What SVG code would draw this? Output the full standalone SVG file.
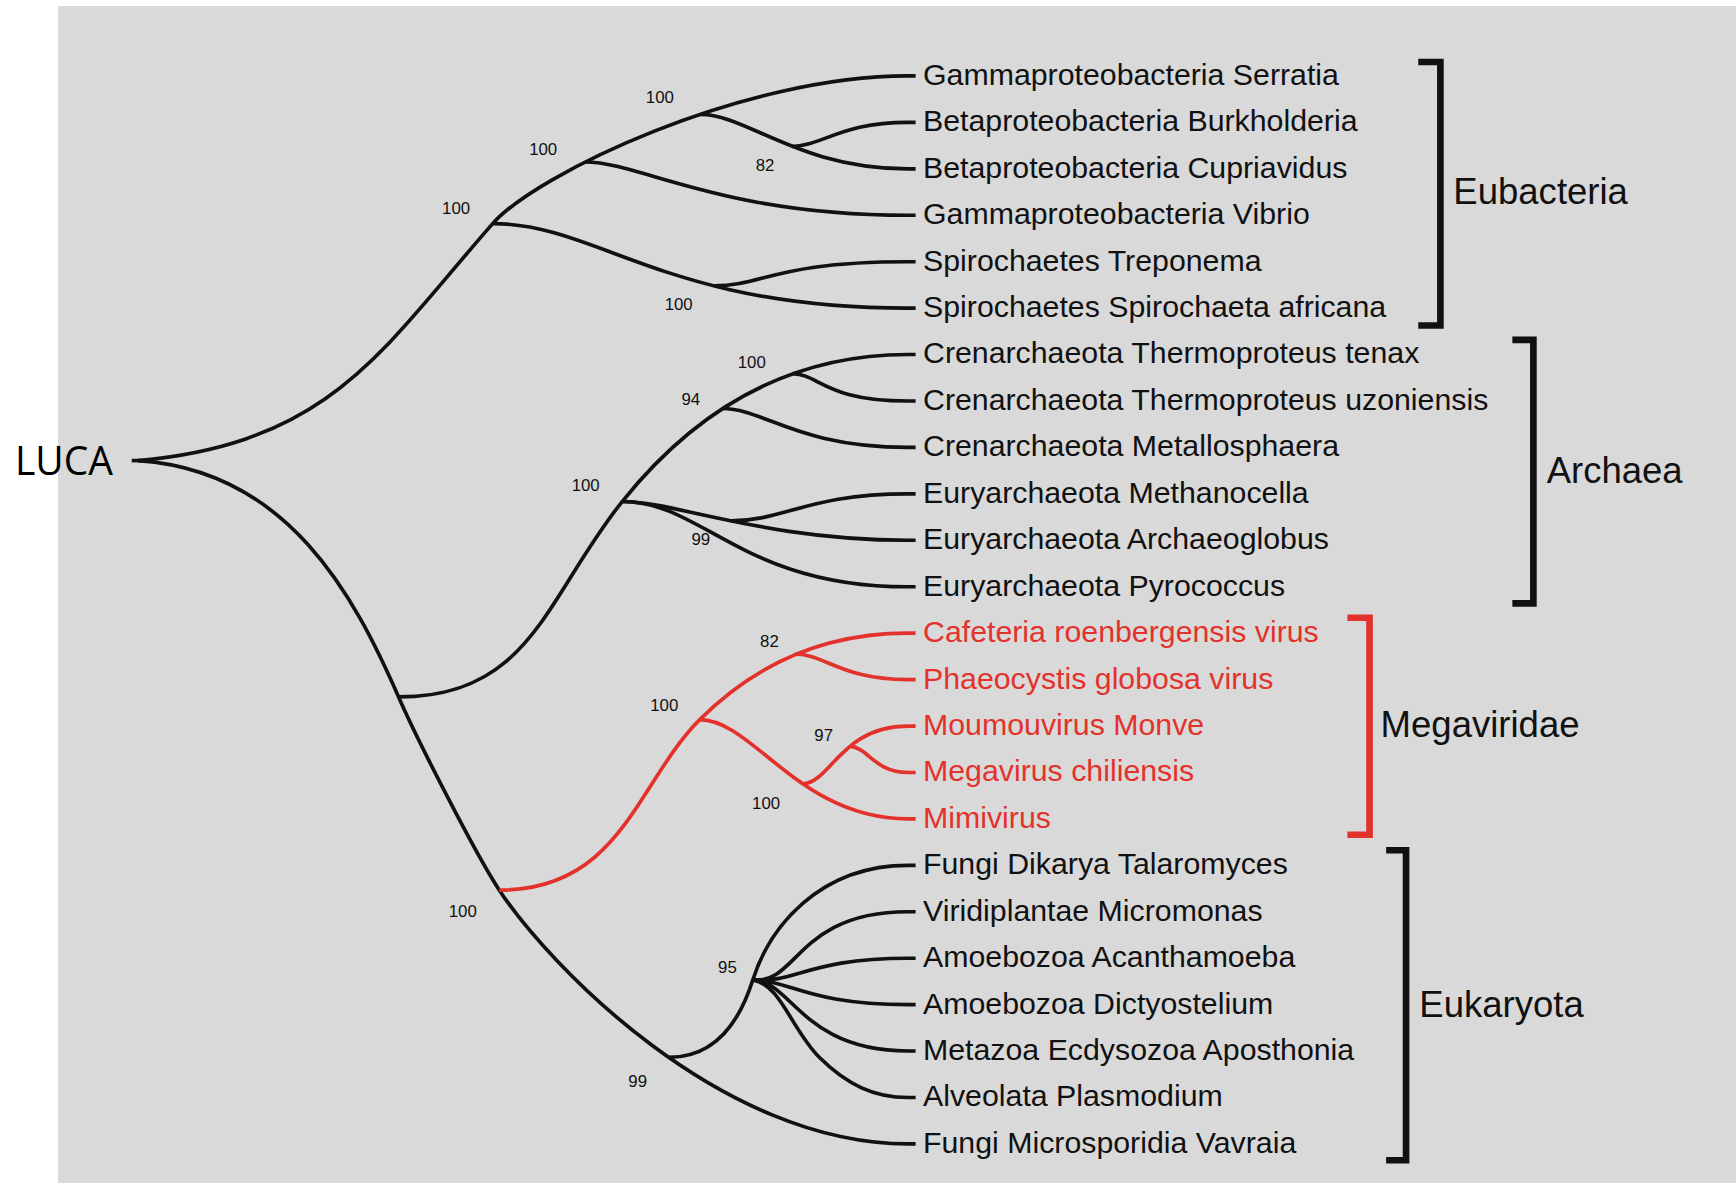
<svg xmlns="http://www.w3.org/2000/svg" width="1736" height="1185" viewBox="0 0 1736 1185">
<style>
.e{fill:none;stroke:#111;stroke-width:3.3;stroke-linecap:butt;stroke-linejoin:round}
.r{stroke:#e3322b}
.lf{font-family:"Liberation Sans",Arial,sans-serif;font-size:27.37px;fill:#111}
.lr{fill:#e3322b}
.bs{font-family:"Liberation Sans",Arial,sans-serif;font-size:15.2px;fill:#111;text-anchor:middle}
.gl{font-family:"Liberation Sans",Arial,sans-serif;font-size:33px;fill:#111}
.br{fill:none;stroke:#111;stroke-width:6;stroke-linejoin:miter}
</style>
<rect x="0" y="0" width="1736" height="1185" fill="#ffffff"/>
<rect x="58" y="6" width="1678" height="1177" fill="#d9d9d9"/>
<g transform="scale(1.107143)">
<g id="connectors">
<path class="e" d="M119,416 H130"/>
<path class="e" d="M125,416 C300,400 346,314.5 445,202 C484.6,157 670,68.6 820,68.6 H827"/>
<path class="e" d="M632.4,103.3 C675,103.3 721,152.5 820,152.5 H827"/>
<path class="e" d="M715,132.3 C745,131 760,110.5 820,110.5 H827"/>
<path class="e" d="M528.8,146.3 C578,146.3 650,194.4 820,194.4 H827"/>
<path class="e" d="M445,202 C540,202 600,278.3 820,278.3 H827"/>
<path class="e" d="M645,258.2 C690,258 700,236.4 820,236.4 H827"/>
<path class="e" d="M125,416 C260,425 320,538 360,629.5 C376,666.2 429,770.6 451,804 C495,870.8 650,1033.2 820,1033.2 H827"/>
<path class="e" d="M360,629.5 C480,629.5 493.25,538.8 562,453 C599.5,406.2 680,320.2 820,320.2 H827"/>
<path class="e" d="M716,337.5 C740,338 745,362.2 820,362.2 H827"/>
<path class="e" d="M652.6,369 C690,369 720,404.1 820,404.1 H827"/>
<path class="e" d="M562,453 C635,453 670,530 820,530 H827"/>
<path class="e" d="M562,453 C610,453 690,488 820,488 H827"/>
<path class="e" d="M660.3,470.5 C710,470 730,446.1 820,446.1 H827"/>
<path class="e r" d="M451,804 C561,804 575.4,706.6 632,650 C660.3,621.7 720,571.9 820,571.9 H827"/>
<path class="e r" d="M718.7,590.7 C745,591 760,613.8 820,613.8 H827"/>
<path class="e r" d="M632,650 C680,650 722,739.6 820,739.6 H827"/>
<path class="e r" d="M725.3,708 C750,707 760,655.8 820,655.8 H827"/>
<path class="e r" d="M767.8,673.9 C785,676 790,697.7 820,697.7 H827"/>
<path class="e" d="M604.3,955 C649,955 669.5,918.25 680,885 C695,837.5 740,781.6 820,781.6 H827"/>
<path class="e" d="M680,885 C720,890 720,823.5 820,823.5 H827"/>
<path class="e" d="M680,885 C720,888 730,865.5 820,865.5 H827"/>
<path class="e" d="M680,885 C715,886 730,907.4 820,907.4 H827"/>
<path class="e" d="M680,885 C715,886 725,949.3 820,949.3 H827"/>
<path class="e" d="M680,885 C705,889 715,930 740,955 S790,991.3 820,991.3 H827"/>
</g>
<g id="root"><text x="13.5" y="429" font-family="'Open Sans','Noto Sans',sans-serif" font-size="36.7" textLength="88.5" lengthAdjust="spacingAndGlyphs" fill="#000">LUCA</text></g>
<g id="support">
<text class="bs" x="596" y="93.4">100</text>
<text class="bs" x="490.6" y="140">100</text>
<text class="bs" x="691" y="154.4">82</text>
<text class="bs" x="412" y="193.4">100</text>
<text class="bs" x="613" y="280.4">100</text>
<text class="bs" x="679" y="332.4">100</text>
<text class="bs" x="624" y="365.4">94</text>
<text class="bs" x="529" y="443.4">100</text>
<text class="bs" x="633" y="492.4">99</text>
<text class="bs" x="695" y="584.4">82</text>
<text class="bs" x="600" y="642.4">100</text>
<text class="bs" x="744" y="669.4">97</text>
<text class="bs" x="692" y="730.4">100</text>
<text class="bs" x="418" y="828.4">100</text>
<text class="bs" x="657" y="878.4">95</text>
<text class="bs" x="576" y="981.4">99</text>
</g>
<g id="leaves">
<g id="leaf1"><text class="lf" x="833.7" y="76.7">Gammaproteobacteria Serratia</text></g>
<g id="leaf2"><text class="lf" x="833.7" y="118.6">Betaproteobacteria Burkholderia</text></g>
<g id="leaf3"><text class="lf" x="833.7" y="160.6">Betaproteobacteria Cupriavidus</text></g>
<g id="leaf4"><text class="lf" x="833.7" y="202.5">Gammaproteobacteria Vibrio</text></g>
<g id="leaf5"><text class="lf" x="833.7" y="244.5">Spirochaetes Treponema</text></g>
<g id="leaf6"><text class="lf" x="833.7" y="286.4">Spirochaetes Spirochaeta africana</text></g>
<g id="leaf7"><text class="lf" x="833.7" y="328.3">Crenarchaeota Thermoproteus tenax</text></g>
<g id="leaf8"><text class="lf" x="833.7" y="370.3">Crenarchaeota Thermoproteus uzoniensis</text></g>
<g id="leaf9"><text class="lf" x="833.7" y="412.2">Crenarchaeota Metallosphaera</text></g>
<g id="leaf10"><text class="lf" x="833.7" y="454.2">Euryarchaeota Methanocella</text></g>
<g id="leaf11"><text class="lf" x="833.7" y="496.1">Euryarchaeota Archaeoglobus</text></g>
<g id="leaf12"><text class="lf" x="833.7" y="538.1">Euryarchaeota Pyrococcus</text></g>
<g id="leaf13"><text class="lf lr" x="833.7" y="580">Cafeteria roenbergensis virus</text></g>
<g id="leaf14"><text class="lf lr" x="833.7" y="621.9">Phaeocystis globosa virus</text></g>
<g id="leaf15"><text class="lf lr" x="833.7" y="663.9">Moumouvirus Monve</text></g>
<g id="leaf16"><text class="lf lr" x="833.7" y="705.8">Megavirus chiliensis</text></g>
<g id="leaf17"><text class="lf lr" x="833.7" y="747.7">Mimivirus</text></g>
<g id="leaf18"><text class="lf" x="833.7" y="789.7">Fungi Dikarya Talaromyces</text></g>
<g id="leaf19"><text class="lf" x="833.7" y="831.6">Viridiplantae Micromonas</text></g>
<g id="leaf20"><text class="lf" x="833.7" y="873.6">Amoebozoa Acanthamoeba</text></g>
<g id="leaf21"><text class="lf" x="833.7" y="915.5">Amoebozoa Dictyostelium</text></g>
<g id="leaf22"><text class="lf" x="833.7" y="957.4">Metazoa Ecdysozoa Aposthonia</text></g>
<g id="leaf23"><text class="lf" x="833.7" y="999.4">Alveolata Plasmodium</text></g>
<g id="leaf24"><text class="lf" x="833.7" y="1041.3">Fungi Microsporidia Vavraia</text></g>
</g>
<g id="eubacteria"><path class="br" d="M1281,56 H1301 V294 H1281"/><text class="gl" x="1312.7" y="184.5">Eubacteria</text></g>
<g id="archaea"><path class="br" d="M1366,307 H1385 V545 H1366"/><text class="gl" x="1397" y="436">Archaea</text></g>
<g id="megaviridae"><path class="br" style="stroke:#e3322b" d="M1217,558 H1237 V754 H1217"/><text class="gl lr" x="1247" y="666">Megaviridae</text></g>
<g id="eukaryota"><path class="br" d="M1252,768 H1270 V1048 H1252"/><text class="gl" x="1282" y="919">Eukaryota</text></g>
</g>
</svg>
